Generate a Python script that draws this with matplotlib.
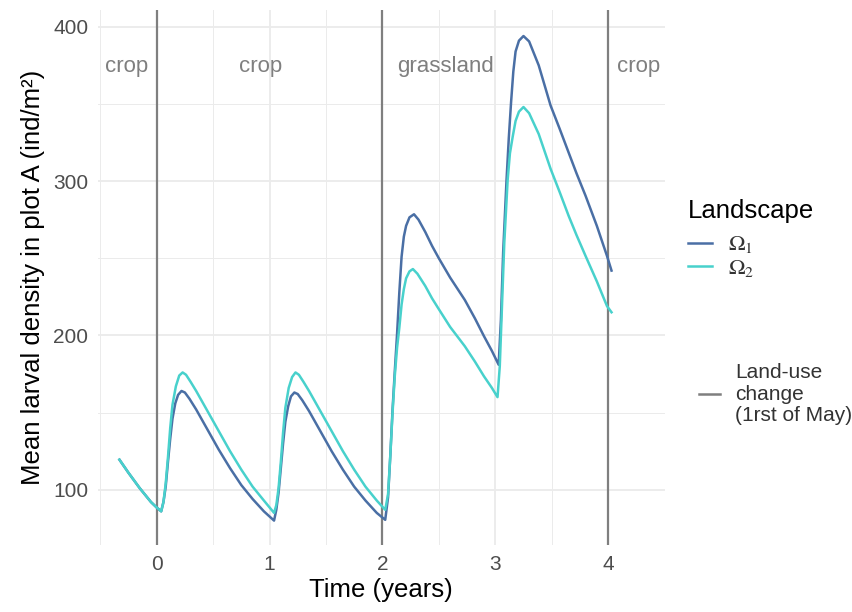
import matplotlib
matplotlib.use("Agg")
import matplotlib.pyplot as plt
from matplotlib.lines import Line2D
import numpy as np

plt.rcParams['font.family'] = ['Liberation Sans', 'DejaVu Sans']
plt.rcParams['mathtext.fontset'] = 'stix'

# values
t_omega1 = [-0.33, -0.25, -0.15, -0.05, 0.0, 0.04, 0.06, 0.08, 0.10, 0.12, 0.14, 0.165, 0.19, 0.22,
            0.25, 0.29, 0.35, 0.45, 0.55, 0.65, 0.75, 0.85, 0.95, 1.04,
            1.06, 1.08, 1.10, 1.12, 1.14, 1.165, 1.19, 1.22, 1.25, 1.29, 1.35, 1.45, 1.55,
            1.65, 1.75, 1.85, 1.95, 2.025,
            2.05, 2.07, 2.09, 2.11, 2.13, 2.15, 2.17, 2.19, 2.21, 2.24, 2.28, 2.32, 2.38,
            2.44, 2.50, 2.60, 2.73, 2.82, 2.90, 2.97, 3.03,
            3.05, 3.07, 3.10, 3.12, 3.14, 3.16, 3.18, 3.21, 3.25, 3.30, 3.385, 3.49, 3.57,
            3.65, 3.72, 3.80, 3.90, 3.99, 4.03]
omega1 = [119.5, 111, 101, 92, 88.5, 86, 92, 102, 118, 133, 146, 156, 161.5, 164,
          163, 159, 152, 139, 126, 114, 103, 94, 86, 80,
          87, 98, 114, 130, 144, 154, 160.5, 163, 162, 158, 151, 138, 125,
          113, 102, 93, 85, 80.5,
          95, 122, 152, 177, 201, 228, 251, 264, 271, 276.5, 278.5, 275, 267,
          258, 250, 237.5, 223, 211, 199.5, 190, 181,
          210, 254, 301, 328, 351, 371, 384, 391, 394, 390.5, 375, 349, 334,
          318.5, 305, 290.5, 271, 251.5, 242]

t_omega2 = [-0.33, -0.25, -0.15, -0.05, 0.0, 0.04, 0.06, 0.08, 0.10, 0.12, 0.14, 0.17, 0.20, 0.23,
            0.26, 0.30, 0.35, 0.45, 0.55, 0.65, 0.75, 0.85, 0.95, 1.04,
            1.06, 1.08, 1.10, 1.12, 1.14, 1.17, 1.20, 1.23, 1.26, 1.30, 1.35, 1.45, 1.55,
            1.65, 1.75, 1.85, 1.95, 2.025,
            2.05, 2.07, 2.09, 2.11, 2.13, 2.15, 2.17, 2.19, 2.21, 2.24, 2.27, 2.31, 2.38,
            2.44, 2.50, 2.60, 2.73, 2.82, 2.90, 2.97, 3.02,
            3.04, 3.06, 3.08, 3.11, 3.13, 3.155, 3.18, 3.21, 3.25, 3.30, 3.385, 3.49, 3.57,
            3.65, 3.72, 3.80, 3.90, 3.99, 4.03]
omega2 = [119.5, 111, 101, 92, 88.5, 86, 92, 104, 121, 140, 155, 167, 174, 176,
          174.5, 170, 164, 151, 138, 125, 113, 102, 93, 85,
          90, 101, 118, 137, 153, 166, 173, 176, 174.5, 170, 164, 151, 138,
          125, 113, 102, 93, 87,
          97, 122, 150, 174, 192, 205, 220, 230, 237, 241.5, 243, 240, 232,
          224, 217, 205.5, 193, 183, 173.5, 166, 160,
          180, 220, 260, 301, 318, 329, 339, 345, 348, 344, 330.5, 308, 293,
          277.5, 265, 251.5, 235, 219, 215]

landuse_change = [0, 2, 4]
land_labels = ['crop', 'crop', 'grassland', 'crop']
label_t = [-0.27, 0.92, 2.56, 4.27]
label_y = 374

col1 = '#4A6FA5'
col2 = '#48D1CC'
col_change = '#7F7F7F'

fig = plt.figure(figsize=(8.52, 6.12), dpi=100)
ax = fig.add_axes([0.115, 0.109, 0.665, 0.875])

grid_col = '#EBEBEB'
ax.set_xlim(-0.52, 4.5)
ax.set_ylim(64, 411)
ax.set_xticks([0, 1, 2, 3, 4])
ax.set_xticks(np.arange(-0.5, 4.6, 1.0), minor=True)
ax.set_yticks([100, 200, 300, 400])
ax.set_yticks([150, 250, 350], minor=True)
ax.grid(True, which='major', color=grid_col, lw=1.3)
ax.grid(True, which='minor', color=grid_col, lw=0.7)
ax.set_axisbelow(True)
for s in ax.spines.values():
    s.set_visible(False)
ax.tick_params(which='both', length=0, labelsize=15, colors='#4D4D4D', pad=7)

for x in landuse_change:
    ax.axvline(x, color=col_change, lw=1.6)

ax.plot(t_omega1, omega1, color=col1, lw=1.8)
ax.plot(t_omega2, omega2, color=col2, lw=1.8)

for lab, tx in zip(land_labels, label_t):
    ax.text(tx, label_y, lab, ha='center', va='center', fontsize=16, color='#7F7F7F')

ax.set_xlabel('Time (years)', fontsize=18.5, color='black', labelpad=3)
ax.set_ylabel('Mean larval density in plot A (ind/m²)', fontsize=18.5, color='black', labelpad=6)

h1 = [Line2D([], [], color=col1, lw=1.8), Line2D([], [], color=col2, lw=1.8)]
leg1 = fig.legend(h1, [r'$\Omega_1$', r'$\Omega_2$'], title='Landscape', loc='upper left',
                  bbox_to_anchor=(0.784, 0.707), frameon=False, fontsize=16,
                  title_fontsize=18.5, handlelength=1.1, handletextpad=0.7,
                  labelspacing=0.1, alignment='left')
leg1.get_title().set_color('black')
leg1._legend_box.sep = 8
for t in leg1.get_texts():
    t.set_color('#333333')

h2 = [Line2D([], [], color=col_change, lw=1.8)]
leg2 = fig.legend(h2, ['Land-use\nchange\n(1rst of May)'], loc='upper left',
                  bbox_to_anchor=(0.799, 0.437), frameon=False, fontsize=15,
                  handlelength=1.0, handletextpad=0.7)
for t in leg2.get_texts():
    t.set_color('#333333')
    t.set_linespacing(1.15)

fig.savefig('out.png', dpi=100)
